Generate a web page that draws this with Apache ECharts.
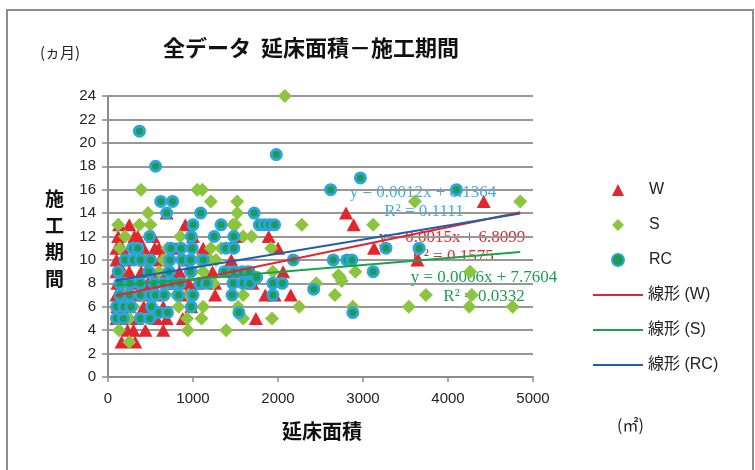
<!DOCTYPE html>
<html>
<head>
<meta charset="utf-8">
<script src="https://cdn.jsdelivr.net/npm/echarts@6/dist/echarts.min.js"></script>
<style>
  html, body { margin: 0; padding: 0; background: #fff; }
  #chart { width: 755px; height: 470px; }
</style>
</head>
<body>
<div id="chart"></div>
<script>
// 延床面積 (m2) vs 施工期間 (months)
var wData = [
  [4420, 15], [2800, 14], [2890, 13], [3130, 11], [3640, 10], [2060, 9], [2150, 7], [1850, 7],
  [1960, 7], [1740, 5], [1890, 12], [2000, 11], [1510, 12], [1230, 9], [1260, 7], [1120, 11],
  [880, 5], [690, 5], [650, 4], [300, 4], [160, 3], [320, 3], [230, 4], [690, 14], [250, 13],
  [910, 13], [120, 12], [310, 12], [530, 12], [100, 11], [550, 11], [100, 10], [430, 10],
  [610, 10], [1450, 10], [100, 9], [250, 9], [600, 9], [840, 9], [1470, 9], [110, 8], [300, 8],
  [520, 8], [760, 8], [950, 8], [1260, 8], [1700, 8], [100, 7], [290, 7], [450, 7], [920, 7],
  [110, 6], [250, 6], [420, 6], [650, 6], [980, 6], [100, 5], [340, 5], [170, 11], [200, 10],
  [180, 9], [160, 8], [220, 7], [180, 6], [150, 5], [390, 9], [470, 8], [560, 7], [500, 6],
  [600, 11], [350, 12], [420, 11], [720, 9], [780, 8], [900, 10], [1050, 8], [570, 5], [440, 4],
  [230, 5], [130, 13], [800, 11], [1000, 12]
];
var sData = [
  [2080, 24], [390, 16], [1050, 16], [1110, 16], [1210, 15], [1520, 15], [3610, 15], [4850, 15],
  [470, 14], [1520, 14], [120, 13], [370, 13], [500, 13], [1470, 13], [1500, 13], [2280, 13],
  [3120, 13], [1590, 12], [1690, 12], [140, 11], [1330, 11], [1920, 11], [1210, 11], [1200, 10],
  [1270, 10], [1070, 10], [130, 9], [1120, 9], [1630, 9], [1940, 9], [2910, 9], [4260, 9],
  [1240, 8], [2450, 8], [2710, 8.7], [2750, 8.2], [2730, 8.5], [360, 8], [1590, 7], [2670, 7],
  [3740, 7], [4280, 7], [420, 7], [520, 6], [1120, 6], [1530, 6], [2250, 6], [2880, 6], [3540, 6],
  [4250, 6], [4760, 6], [830, 6], [250, 5], [1100, 5], [1590, 5], [1930, 5], [930, 5], [130, 4],
  [940, 4], [1390, 4], [250, 3], [200, 12], [300, 11], [420, 10], [600, 9], [700, 8], [800, 7],
  [300, 6], [500, 5], [200, 8], [700, 11], [850, 12], [1000, 9], [950, 7], [650, 10]
];
var rcData = [
  [370, 21], [560, 18], [1980, 19], [2970, 17], [2620, 16], [4100, 16], [620, 15], [760, 15],
  [690, 14], [1090, 14], [1720, 14], [1000, 13], [1330, 13], [1780, 13], [1840, 13], [1900, 13],
  [1960, 13], [490, 12], [980, 12], [1250, 12], [1480, 12], [290, 11], [350, 11], [740, 11],
  [860, 11], [990, 11], [1390, 11], [1480, 11], [3270, 11], [3660, 11], [200, 10], [300, 10],
  [380, 10], [500, 10], [730, 10], [870, 10], [970, 10], [1120, 10], [2180, 10], [2650, 10],
  [2810, 10], [2870, 10], [120, 9], [480, 9], [720, 9], [970, 9], [1370, 9], [1480, 9], [1580, 9],
  [1660, 9], [3120, 9], [140, 8], [260, 8], [380, 8], [540, 8], [650, 8], [760, 8], [850, 8],
  [1080, 8], [1160, 8], [1470, 8], [1590, 8], [1670, 8], [1940, 8], [2050, 8], [1750, 8.5],
  [140, 7], [250, 7], [380, 7], [500, 7], [560, 7], [660, 7], [830, 7], [1000, 7], [1460, 7],
  [1940, 7], [2420, 7.5], [100, 6], [190, 6], [270, 6], [510, 6], [980, 6], [100, 5], [180, 5],
  [380, 5], [490, 5], [600, 5.5], [700, 5.5], [1540, 5.5], [2880, 5.5]
];
// trendline end points (from the equations shown in the chart)
var trendW = [[90, 6.94], [4850, 14.08]];
var trendS = [[90, 7.81], [4850, 10.67]];
var trendRC = [[90, 8.24], [4850, 13.96]];

var xTicks = { min: 0, max: 5000, interval: 1000 };
var yTicks = { min: 0, max: 24, interval: 2 };

var chart = echarts.init(document.getElementById('chart'));
var sans = '"Liberation Sans", "Noto Sans CJK JP", sans-serif';
var cjk = '"Noto Sans CJK JP", sans-serif';
var serif = '"Liberation Serif", "DejaVu Serif", serif';

chart.setOption({
  backgroundColor: '#fff',
  animation: false,
  grid: { left: 108, right: 222, top: 96, bottom: 93 },
  legend: [{
    orient: 'vertical',
    left: 606,
    top: 175,
    itemWidth: 12,
    itemHeight: 12,
    itemGap: 15,
    data: ['W', 'S', 'RC'],
    textStyle: { fontSize: 16, color: '#222', fontFamily: sans, lineHeight: 20, padding: [0, 0, 0, 20] }
  }, {
    orient: 'vertical',
    left: 588,
    top: 280,
    itemWidth: 50,
    itemHeight: 2,
    itemGap: 15,
    data: [
      { name: '線形 (W)', icon: 'rect' },
      { name: '線形 (S)', icon: 'rect' },
      { name: '線形 (RC)', icon: 'rect' }
    ],
    textStyle: { fontSize: 16, color: '#222', fontFamily: sans, lineHeight: 20 }
  }],
  xAxis: {
    type: 'value',
    min: xTicks.min,
    max: xTicks.max,
    interval: xTicks.interval,
    splitLine: { show: false },
    axisLine: { lineStyle: { color: '#8c8c8c', width: 2 } },
    axisTick: { show: true, length: 5, lineStyle: { color: '#8c8c8c', width: 1.5 } },
    axisLabel: { fontSize: 15, color: '#222', fontFamily: sans, margin: 14, formatter: function (v) { return String(v); } }
  },
  yAxis: {
    type: 'value',
    min: yTicks.min,
    max: yTicks.max,
    interval: yTicks.interval,
    axisLine: { show: true, lineStyle: { color: '#8c8c8c', width: 2 } },
    axisTick: { show: true, length: 6, lineStyle: { color: '#8c8c8c', width: 1.5 } },
    splitLine: { lineStyle: { color: '#979797', width: 2 } },
    axisLabel: { fontSize: 15, color: '#222', fontFamily: sans, margin: 12 }
  },
  series: [{
    name: 'W',
    type: 'scatter',
    symbol: 'triangle',
    symbolSize: [14, 13],
    data: wData,
    itemStyle: { color: '#e3262d', opacity: 1 }
  }, {
    name: 'S',
    type: 'scatter',
    symbol: 'diamond',
    symbolSize: 14,
    data: sData,
    itemStyle: { color: '#8cc43f', opacity: 1 }
  }, {
    name: 'RC',
    type: 'scatter',
    symbol: 'circle',
    symbolSize: 10,
    data: rcData,
    itemStyle: { color: '#1e9b4f', borderColor: '#2aa6de', borderWidth: 3, opacity: 1 }
  }, {
    name: '線形 (W)',
    type: 'line',
    symbol: 'none',
    data: trendW,
    lineStyle: { color: '#e3262d', width: 2 },
    itemStyle: { color: '#e3262d' }
  }, {
    name: '線形 (S)',
    type: 'line',
    symbol: 'none',
    data: trendS,
    lineStyle: { color: '#1aa34a', width: 2 },
    itemStyle: { color: '#1aa34a' }
  }, {
    name: '線形 (RC)',
    type: 'line',
    symbol: 'none',
    data: trendRC,
    lineStyle: { color: '#1f5fb0', width: 2 },
    itemStyle: { color: '#1f5fb0' }
  }],
  graphic: [
    { type: 'rect', shape: { x: 7, y: 10, width: 746, height: 480 }, style: { fill: 'none', stroke: '#8c8c8c', lineWidth: 2 }, z: -1 },
    { type: 'text', x: 163, y: 48, style: { text: '全データ  延床面積－施工期間', font: 'bold 22px ' + cjk, fill: '#111', textVerticalAlign: 'middle' } },
    { type: 'text', x: 40, y: 52, style: { text: '(ヵ月)', font: '15px ' + cjk, fill: '#222', textVerticalAlign: 'middle' } },
    { type: 'text', x: 45, y: 186, style: { text: '施\n工\n期\n間', font: 'bold 19px ' + cjk, fill: '#111', lineHeight: 26.5 } },
    { type: 'text', x: 322, y: 431, style: { text: '延床面積', font: 'bold 20px ' + cjk, fill: '#111', textAlign: 'center', textVerticalAlign: 'middle' } },
    { type: 'text', x: 617, y: 425, style: { text: '(㎡)', font: '16px ' + cjk, fill: '#222', textVerticalAlign: 'middle' } },
    { type: 'text', x: 423, y: 193, style: { text: 'y = 0.0012x + 8.1364', font: '17px ' + serif, fill: '#3aaee0', textAlign: 'center', textVerticalAlign: 'middle' } },
    { type: 'text', x: 424, y: 212, style: { text: 'R² = 0.1111', font: '17px ' + serif, fill: '#3aaee0', textAlign: 'center', textVerticalAlign: 'middle' } },
    { type: 'text', x: 452, y: 238, style: { text: 'y = 0.0015x + 6.8099', font: '17px ' + serif, fill: '#e3262d', textAlign: 'center', textVerticalAlign: 'middle' } },
    { type: 'text', x: 453, y: 257, style: { text: 'R² = 0.1575', font: '17px ' + serif, fill: '#e3262d', textAlign: 'center', textVerticalAlign: 'middle' } },
    { type: 'text', x: 484, y: 278, style: { text: 'y = 0.0006x + 7.7604', font: '17px ' + serif, fill: '#1f9e4e', textAlign: 'center', textVerticalAlign: 'middle' } },
    { type: 'text', x: 484, y: 297, style: { text: 'R² = 0.0332', font: '17px ' + serif, fill: '#1f9e4e', textAlign: 'center', textVerticalAlign: 'middle' } }
  ]
});
</script>
</body>
</html>
